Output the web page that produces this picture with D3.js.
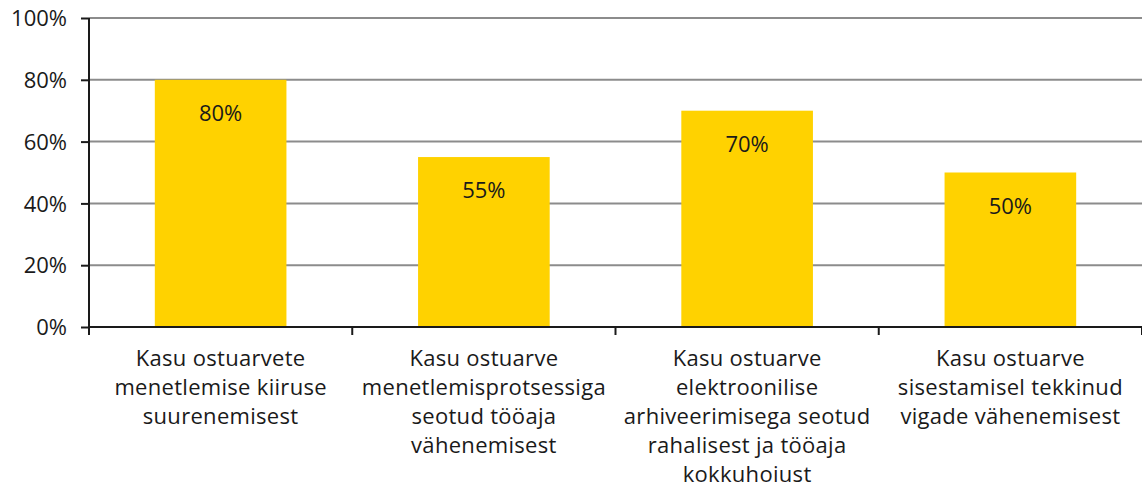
<!DOCTYPE html>
<meta charset="utf-8">
<script src="https://d3js.org/d3.v7.min.js"></script>
<style>
  body { margin: 0; background: #fff; }
  text { font-family: "Open Sans", "Liberation Sans", sans-serif; fill: #1a1a1a; }
</style>
<div id="my_dataviz"></div>
<script>

// data
var categories = [
  ["Kasu ostuarvete", "menetlemise kiiruse", "suurenemisest"],
  ["Kasu ostuarve", "menetlemisprotsessiga", "seotud tööaja", "vähenemisest"],
  ["Kasu ostuarve", "elektroonilise", "arhiveerimisega seotud", "rahalisest ja tööaja", "kokkuhoiust"],
  ["Kasu ostuarve", "sisestamisel tekkinud", "vigade vähenemisest"]
];
var values = [80, 55, 70, 50];
var yTicks = [0, 20, 40, 60, 80, 100];

var W = 1142, H = 483;
var margin = {top: 18, right: 0, bottom: 156, left: 89},
    width = W - margin.left - margin.right,
    height = H - margin.top - margin.bottom;

var svg = d3.select("#my_dataviz")
  .append("svg")
    .attr("width", W)
    .attr("height", H)
  .append("g")
    .attr("transform", "translate(" + margin.left + "," + margin.top + ")");

var x = d3.scaleBand()
  .domain(d3.range(values.length))
  .range([0, width])
  .padding(0);

var y = d3.scaleLinear()
  .domain([0, 100])
  .range([height, 0]);

// gridlines
svg.append("g")
  .selectAll("line")
  .data(yTicks.filter(function(d){ return d > 0; }))
  .enter()
  .append("line")
    .attr("x1", 0)
    .attr("x2", width)
    .attr("y1", function(d){ return y(d); })
    .attr("y2", function(d){ return y(d); })
    .attr("stroke", "#8c8c8c")
    .attr("stroke-width", 2);

// bars
var barW = x.bandwidth() * 0.5;
svg.append("g")
  .selectAll("rect")
  .data(values)
  .enter()
  .append("rect")
    .attr("x", function(d, i){ return x(i) + (x.bandwidth() - barW) / 2; })
    .attr("y", function(d){ return y(d); })
    .attr("width", barW)
    .attr("height", function(d){ return height - y(d); })
    .attr("fill", "#ffd200");

// value labels
svg.append("g")
  .selectAll("text")
  .data(values)
  .enter()
  .append("text")
    .attr("x", function(d, i){ return x(i) + x.bandwidth() / 2; })
    .attr("y", function(d){ return y(d) + 41; })
    .attr("text-anchor", "middle")
    .style("font-size", "22px")
    .text(function(d){ return d + "%"; });

// y axis
var yAxis = svg.append("g")
  .call(d3.axisLeft(y).tickValues(yTicks).tickFormat(function(d){ return d + "%"; }).tickSize(8).tickPadding(14));
yAxis.select(".domain").attr("stroke", "#1a1a1a").attr("stroke-width", 2).attr("d", "M0," + height + "V0");
yAxis.selectAll(".tick line").attr("stroke", "#1a1a1a").attr("stroke-width", 2);
yAxis.selectAll(".tick text").style("font-size", "22px").attr("dy", "0.35em");

// x axis line and ticks at category boundaries
var xAxis = svg.append("g").attr("transform", "translate(0," + height + ")");
xAxis.append("line")
  .attr("x1", 0).attr("x2", width)
  .attr("stroke", "#1a1a1a").attr("stroke-width", 2);
xAxis.selectAll(".btick")
  .data(d3.range(values.length + 1))
  .enter()
  .append("line")
    .attr("x1", function(i){ return i * x.step(); })
    .attr("x2", function(i){ return i * x.step(); })
    .attr("y1", 0).attr("y2", 8)
    .attr("stroke", "#1a1a1a").attr("stroke-width", 2);

// category labels
var lbl = xAxis.selectAll(".cat")
  .data(categories)
  .enter()
  .append("text")
    .attr("class", "cat")
    .attr("text-anchor", "middle")
    .attr("transform", function(d, i){ return "translate(" + (x(i) + x.bandwidth() / 2) + ",39)"; })
    .style("font-size", "22px")
    .style("letter-spacing", "0.3px");
lbl.selectAll("tspan")
  .data(function(d){ return d; })
  .enter()
  .append("tspan")
    .attr("x", 0)
    .attr("y", function(d, j){ return j * 29; })
    .text(function(d){ return d; });

</script>
